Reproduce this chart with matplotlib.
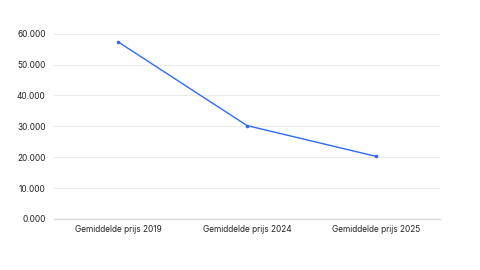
import matplotlib
matplotlib.use("Agg")
import matplotlib.pyplot as plt
from matplotlib.ticker import FuncFormatter

categories = ["Gemiddelde prijs 2019", "Gemiddelde prijs 2024", "Gemiddelde prijs 2025"]
values = [57300, 30250, 20300]
yticks = [0, 10000, 20000, 30000, 40000, 50000, 60000]

plt.rcParams['font.family'] = ['Inter', 'DejaVu Sans']

fig = plt.figure(figsize=(4.8, 2.7), dpi=100)
ax = fig.add_axes([54/480, 1-219/270, (440-54)/480, (219-33.7)/270])

x = list(range(len(categories)))
ax.plot(x, values, color='#2f6bff', linewidth=1.0, marker='o', markersize=1.6)

ax.set_xlim(-0.5, len(categories)-0.5)
ax.set_ylim(0, 60000)
ax.set_yticks(yticks)
ax.yaxis.set_major_formatter(FuncFormatter(lambda v, p: f"{v/1000:.3f}"))
ax.set_xticks(x)
ax.set_xticklabels(categories)

ax.grid(axis='y', color='#ebebeb', linewidth=0.8)
ax.set_axisbelow(True)
for s in ['top', 'right', 'left']:
    ax.spines[s].set_visible(False)
ax.spines['bottom'].set_color('#d9d9d9')
ax.spines['bottom'].set_linewidth(1.0)
ax.tick_params(axis='both', length=0, labelsize=6.0, colors='#222222')
ax.tick_params(axis='y', pad=6)
ax.tick_params(axis='x', pad=4.5)

fig.savefig("out.png", dpi=100, facecolor='white')
